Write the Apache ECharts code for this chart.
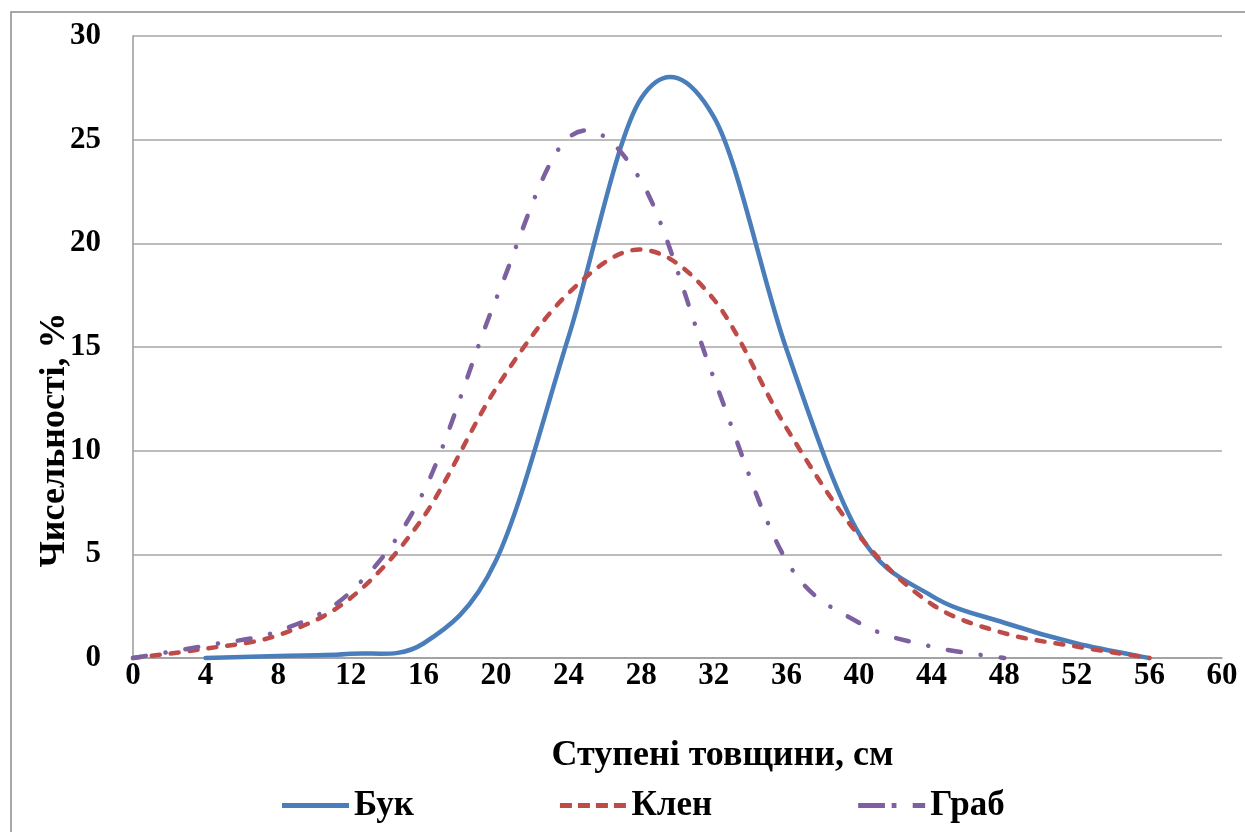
<!DOCTYPE html>
<html>
<head>
<meta charset="utf-8">
<title>Ступені товщини</title>
<script src="https://cdn.jsdelivr.net/npm/echarts@6/dist/echarts.min.js"></script>
<style>
  html, body { margin: 0; padding: 0; background: #fff; }
  #chart { width: 1245px; height: 832px; }
</style>
</head>
<body>
<div id="chart"></div>
<script>
// ступені товщини, см
const xBuk = [4, 8, 12, 16, 20, 24, 28, 32, 36, 40, 44, 48, 52, 56];
const yBuk = [0, 0.1, 0.2, 0.7, 4.7, 15.5, 27.0, 26.1, 14.9, 6.0, 3.0, 1.7, 0.7, 0];

const xKlen = [0, 4, 8, 12, 16, 20, 24, 28, 32, 36, 40, 44, 48, 52, 56];
const yKlen = [0, 0.45, 1.1, 2.9, 6.8, 13.0, 17.6, 19.7, 17.3, 11.1, 5.9, 2.6, 1.2, 0.55, 0];

const xGrab = [0, 4, 8, 12, 16, 20, 24, 28, 32, 36, 40, 44, 48];
const yGrab = [0, 0.6, 1.3, 3.2, 8.0, 17.3, 25.1, 23.0, 13.5, 4.7, 1.7, 0.55, 0];

const xTicks = [0, 4, 8, 12, 16, 20, 24, 28, 32, 36, 40, 44, 48, 52, 56, 60];
const yTicks = [0, 5, 10, 15, 20, 25, 30];

const serif = '"Liberation Serif", "DejaVu Serif", serif';
const colors = { buk: '#4a7ebb', klen: '#be4b48', grab: '#7d60a0' };

const pairs = (xs, ys) => xs.map((x, i) => [x, ys[i]]);

// згладжена крива як в Excel (Catmull-Rom), точки через api.coord
function smoothCurve(xs, ys, style) {
  return function (params, api) {
    if (params.dataIndex !== 0) return null;
    const pts = xs.map((x, i) => api.coord([x, ys[i]]));
    let d = 'M' + pts[0][0] + ',' + pts[0][1];
    for (let i = 0; i < pts.length - 1; i++) {
      const p0 = pts[i - 1] || pts[i];
      const p1 = pts[i];
      const p2 = pts[i + 1];
      const p3 = pts[i + 2] || pts[i + 1];
      const c1x = p1[0] + (p2[0] - p0[0]) / 6;
      const c1y = p1[1] + (p2[1] - p0[1]) / 6;
      const c2x = p2[0] - (p3[0] - p1[0]) / 6;
      const c2y = p2[1] - (p3[1] - p1[1]) / 6;
      d += 'C' + c1x + ',' + c1y + ',' + c2x + ',' + c2y + ',' + p2[0] + ',' + p2[1];
    }
    return {
      type: 'path',
      shape: { pathData: d },
      style: Object.assign({ fill: 'none', lineWidth: 4.5, lineJoin: 'round' }, style)
    };
  };
}

const chart = echarts.init(document.getElementById('chart'));

const option = {
  animation: false,
  grid: { left: 133, right: 23, top: 36, bottom: 174 },
  xAxis: {
    type: 'value',
    min: xTicks[0],
    max: xTicks[xTicks.length - 1],
    interval: 4,
    axisLine: { show: true, lineStyle: { color: '#9a9a9a', width: 1.5 } },
    axisTick: { show: false },
    splitLine: { show: false },
    axisLabel: {
      margin: 2,
      color: '#000',
      fontFamily: serif,
      fontWeight: 'bold',
      fontSize: 31
    },
    name: 'Ступені товщини, см',
    nameLocation: 'middle',
    nameGap: 80,
    nameTextStyle: {
      color: '#000',
      fontFamily: serif,
      fontWeight: 'bold',
      fontSize: 36,
      padding: [0, 0, 0, 90]
    }
  },
  yAxis: {
    type: 'value',
    min: yTicks[0],
    max: yTicks[yTicks.length - 1],
    interval: 5,
    axisLine: { show: true, lineStyle: { color: '#9a9a9a', width: 1.5 } },
    axisTick: { show: false },
    splitLine: { show: true, lineStyle: { color: '#a6a6a6', width: 1.5 } },
    axisLabel: {
      margin: 32,
      color: '#000',
      fontFamily: serif,
      fontWeight: 'bold',
      fontSize: 31
    }
  },
  legend: {
    left: 277,
    top: 783,
    itemWidth: 67,
    itemHeight: 5,
    itemGap: 146,
    textStyle: {
      color: '#000',
      fontFamily: serif,
      fontWeight: 'bold',
      fontSize: 35,
      padding: [0, 0, 0, 0]
    },
    data: [
      { name: 'Бук', icon: 'path://M0,0H68V5H0Z' },
      { name: 'Клен', icon: 'path://M0,0H12V5H0Z M18,0H30V5H18Z M36,0H48V5H36Z M54,0H66V5H54Z' },
      { name: 'Граб', icon: 'path://M0,0H28V5H0Z M35,0H40V5H35Z M57,0H70V5H57Z' }
    ]
  },
  graphic: [
    {
      type: 'rect',
      shape: { x: 11, y: 12, width: 1300, height: 900 },
      style: { fill: 'none', stroke: '#8c8c8c', lineWidth: 1.5 },
      silent: true
    },
    {
      type: 'text',
      x: 55,
      y: 440,
      rotation: Math.PI / 2,
      style: {
        text: 'Чисельності, %',
        fill: '#000',
        font: 'bold 36px ' + serif,
        align: 'center',
        verticalAlign: 'middle'
      },
      silent: true
    }
  ],
  series: [
    {
      name: 'Бук',
      type: 'custom',
      data: pairs(xBuk, yBuk),
      encode: { x: 0, y: 1 },
      itemStyle: { color: colors.buk },
      renderItem: smoothCurve(xBuk, yBuk, { stroke: colors.buk, lineCap: 'round' }),
      z: 2
    },
    {
      name: 'Клен',
      type: 'custom',
      data: pairs(xKlen, yKlen),
      encode: { x: 0, y: 1 },
      itemStyle: { color: colors.klen },
      renderItem: smoothCurve(xKlen, yKlen, { stroke: colors.klen, lineCap: 'round', lineDash: [8, 11] }),
      z: 3
    },
    {
      name: 'Граб',
      type: 'custom',
      data: pairs(xGrab, yGrab),
      encode: { x: 0, y: 1 },
      itemStyle: { color: colors.grab },
      renderItem: smoothCurve(xGrab, yGrab, { stroke: colors.grab, lineCap: 'round', lineDash: [13, 20, 0.1, 20] }),
      z: 4
    }
  ]
};

chart.setOption(option);
</script>
</body>
</html>
